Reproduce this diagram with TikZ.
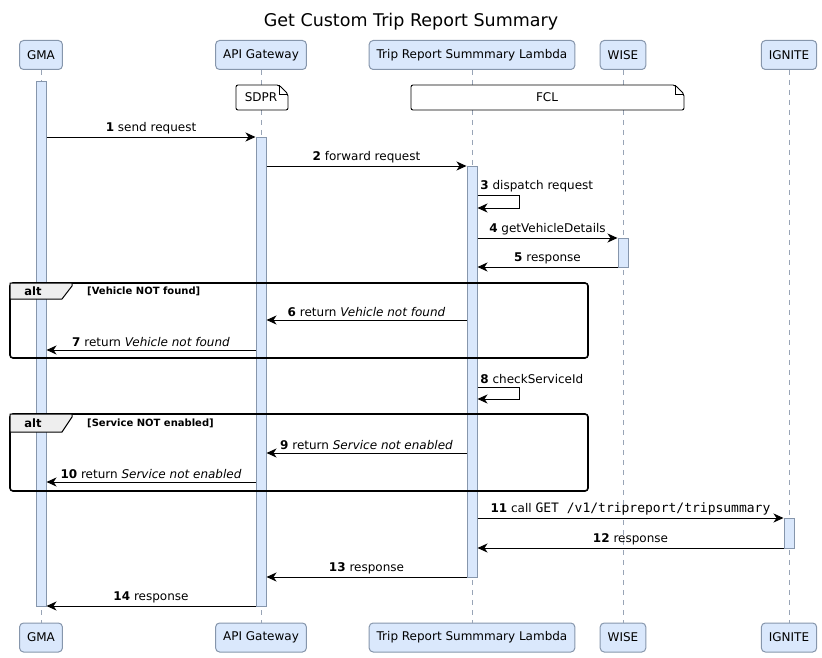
\documentclass[tikz,border=0pt]{standalone}
\usepackage{fontspec}
\setmainfont{DejaVu Sans}
\setmonofont{DejaVu Sans Mono}
\usetikzlibrary{arrows.meta, positioning}
\definecolor{umlfill}{RGB}{218, 232, 252}
\definecolor{umlborder}{RGB}{134, 150, 172}
\definecolor{umlline}{RGB}{152, 164, 182}
\definecolor{tabgray}{RGB}{238, 238, 238}

\begin{document}
\begin{tikzpicture}[
  x=1pt, y=-1pt,
  part/.style={draw=umlborder, fill=umlfill, rounded corners=4pt, line width=1pt,
               minimum height=29pt, inner xsep=7.5pt, font=\fontsize{12}{14}\selectfont},
  life/.style={draw=umlline, dash pattern=on 5pt off 5pt, line width=0.8pt},
  actbar/.style={draw=umlborder, fill=umlfill, line width=1pt, minimum width=10pt,
                 inner sep=0pt, anchor=north},
  msg/.style={-{Stealth[length=10pt, width=9pt, inset=3pt]}, line width=0.9pt},
  lbl/.style={font=\fontsize{12}{14}\selectfont, inner sep=2.5pt},
  note/.style={draw, line width=0.9pt, fill=white, rounded corners=2pt},
  altframe/.style={draw, line width=1.6pt, rounded corners=3pt},
  alttab/.style={draw, line width=1pt, fill=tabgray},
  alttxt/.style={font=\fontsize{11.5}{13}\selectfont\bfseries, inner sep=0pt},
  guard/.style={font=\fontsize{10}{12}\selectfont\bfseries, inner sep=0pt, anchor=west}
]
  \useasboundingbox (0,0) rectangle (822,658);

  \node[font=\fontsize{17.5}{20}\selectfont] (title) at (411,22) {Get Custom Trip Report Summary};

  % participants, top and bottom
  \node[part] (gma)  at (41,55)  {GMA};
  \node[part] (api)  at (261,55) {API Gateway};
  \node[part] (lam)  at (472,55) {Trip Report Summmary Lambda};
  \node[part] (wise) at (623,55) {WISE};
  \node[part] (ign)  at (789,55) {IGNITE};

  \node[part] (gmaB)  at (41,637.5)  {GMA};
  \node[part] (apiB)  at (261,637.5) {API Gateway};
  \node[part] (lamB)  at (472,637.5) {Trip Report Summmary Lambda};
  \node[part] (wiseB) at (623,637.5) {WISE};
  \node[part] (ignB)  at (789,637.5) {IGNITE};

  \draw[life] (gma) -- (gmaB);
  \draw[life] (api) -- (apiB);
  \draw[life] (lam) -- (lamB);
  \draw[life] (wise) -- (wiseB);
  \draw[life] (ign) -- (ignB);

  % activations
  \node[actbar, minimum height=525pt] (gmaAct)  at (41,81)   {};
  \node[actbar, minimum height=469pt] (apiAct)  at (261,137) {};
  \node[actbar, minimum height=411pt] (lamAct)  at (472,166) {};
  \node[actbar, minimum height=29pt]  (wiseAct) at (623,238) {};
  \node[actbar, minimum height=30pt]  (ignAct)  at (789,518) {};

  % notes
  \draw[note] (236,85) -- (279,85) -- (288,94) -- (288,110) -- (236,110) -- cycle;
  \draw[line width=0.9pt] (279,85) |- (288,94);
  \node[lbl] (sdpr) at (261,97.5) {SDPR};
  \draw[note] (411,85) -- (675,85) -- (684,94) -- (684,110) -- (411,110) -- cycle;
  \draw[line width=0.9pt] (675,85) |- (684,94);
  \node[lbl] (fcl) at (547,97.5) {FCL};

  % messages
  \draw[msg] (gmaAct.east |- 0,137) -- node[lbl, above] {\textbf{1} send request} (apiAct.west |- 0,137);
  \draw[msg] (apiAct.east |- 0,166) -- node[lbl, above] {\textbf{2} forward request} (lamAct.west |- 0,166);
  \draw[msg] (lamAct.east |- 0,195) node[lbl, above right] {\textbf{3} dispatch request}
    -- ++(42,0) |- (lamAct.east |- 0,208);
  \draw[msg] (lamAct.east |- 0,238) -- node[lbl, above] {\textbf{4} getVehicleDetails} (wiseAct.west |- 0,238);
  \draw[msg] (wiseAct.west |- 0,267) -- node[lbl, above] {\textbf{5} response} (lamAct.east |- 0,267);

  \draw[altframe] (10,283) rectangle (588,358);
  \draw[alttab] (10,299) -- (10,283) -- (72,283) -- (72,286) -- (62,299) -- cycle;
  \node[alttxt] (alt1) at (33,291) {alt};
  \node[guard] (cond1) at (87,291) {[Vehicle NOT found]};
  \draw[msg] (lamAct.west |- 0,320) -- node[lbl, above] {\textbf{6} return \textit{Vehicle not found}} (apiAct.east |- 0,320);
  \draw[msg] (apiAct.west |- 0,350) -- node[lbl, above] {\textbf{7} return \textit{Vehicle not found}} (gmaAct.east |- 0,350);

  \draw[msg] (lamAct.east |- 0,387) node[lbl, above right] {\textbf{8} checkServiceId}
    -- ++(42,0) |- (lamAct.east |- 0,399);

  \draw[altframe] (10,414) rectangle (588,491);
  \draw[alttab] (10,432) -- (10,414) -- (72,414) -- (72,417) -- (62,432) -- cycle;
  \node[alttxt] (alt2) at (33,423) {alt};
  \node[guard] (cond2) at (87,423) {[Service NOT enabled]};
  \draw[msg] (lamAct.west |- 0,453) -- node[lbl, above] {\textbf{9} return \textit{Service not enabled}} (apiAct.east |- 0,453);
  \draw[msg] (apiAct.west |- 0,482) -- node[lbl, above] {\textbf{10} return \textit{Service not enabled}} (gmaAct.east |- 0,482);

  \draw[msg] (lamAct.east |- 0,518) -- node[lbl, above] {\textbf{11} call \texttt{\fontsize{13}{14}\selectfont GET /v1/tripreport/tripsummary}} (ignAct.west |- 0,518);
  \draw[msg] (ignAct.west |- 0,548) -- node[lbl, above] {\textbf{12} response} (lamAct.east |- 0,548);
  \draw[msg] (lamAct.west |- 0,577) -- node[lbl, above] {\textbf{13} response} (apiAct.east |- 0,577);
  \draw[msg] (apiAct.west |- 0,606) -- node[lbl, above] {\textbf{14} response} (gmaAct.east |- 0,606);
\end{tikzpicture}
\end{document}
